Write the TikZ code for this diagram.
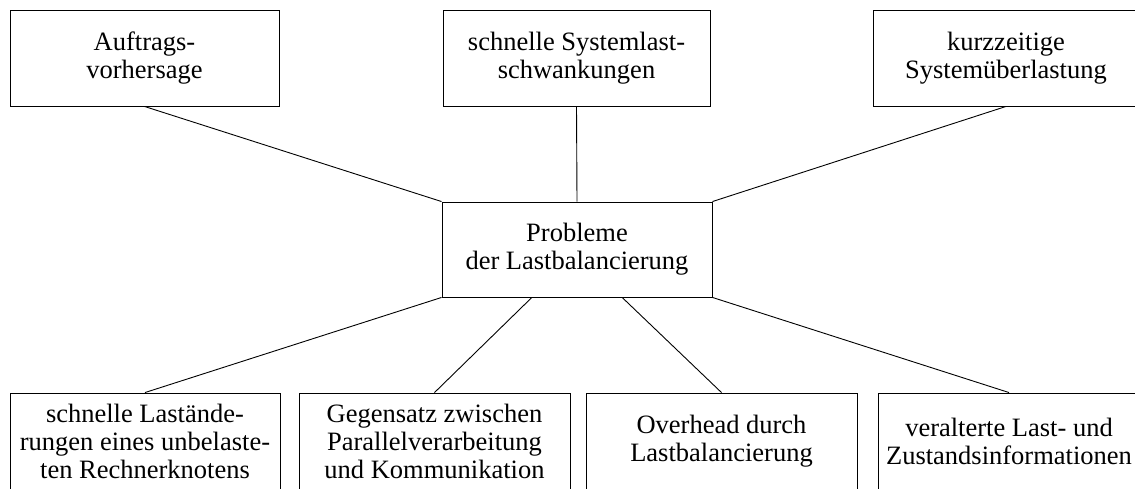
\documentclass[tikz,border=0pt]{standalone}
\usepackage{fontspec}
\setmainfont{Liberation Serif}
\usetikzlibrary{calc}
\tikzset{
  box/.style={draw, line width=0.9pt, rectangle, inner sep=0pt, align=center,
    font=\fontsize{26.5}{28}\selectfont},
  link/.style={line width=0.9pt}
}
\begin{document}
\begin{tikzpicture}[x=1pt, y=-1pt]
  \useasboundingbox (0,0) rectangle (1135,489);
  \clip (0,0) rectangle (1135,489);

  % upper row
  \node[box, minimum width=269pt, minimum height=96pt] (auf) at (144.5,58) {Auftrags-\\vorhersage};
  \node[box, minimum width=267pt, minimum height=96pt] (sys) at (576.5,58) {schnelle Systemlast-\\schwankungen};
  \node[box, minimum width=266pt, minimum height=96pt] (kur) at (1006,58) {kurzzeitige\\Systemüberlastung};

  % central problem
  \node[box, minimum width=270pt, minimum height=95pt] (cen) at (577,249.5) {Probleme\\der Lastbalancierung};

  % lower row (runs past the lower edge)
  \node[box, minimum width=270pt, minimum height=96pt] (ra) at (145,441) {schnelle Lastände-\\rungen eines unbelaste-\\ten Rechnerknotens};
  \node[box, minimum width=271pt, minimum height=96pt] (rb) at (434.5,441) {Gegensatz zwischen\\Parallelverarbeitung\\und Kommunikation};
  \node[box, minimum width=271pt, minimum height=96pt] (rc) at (721.5,441) {Overhead durch\\Lastbalancierung};
  \node[box, minimum width=262pt, minimum height=96pt] (rd) at (1009,441) {veralterte Last- und\\Zustandsinformationen};

  % connectors
  \draw[link] (auf.south) -- (cen.north west);
  \draw[link] (sys.south) -- (cen.north);
  \draw[link] (kur.south) -- (cen.north east);
  \draw[link] (ra.north) -- (cen.south west);
  \draw[link] (rb.north) -- ($(cen.south west)!1/3!(cen.south east)$);
  \draw[link] (rc.north) -- ($(cen.south west)!2/3!(cen.south east)$);
  \draw[link] (rd.north) -- (cen.south east);
\end{tikzpicture}
\end{document}
